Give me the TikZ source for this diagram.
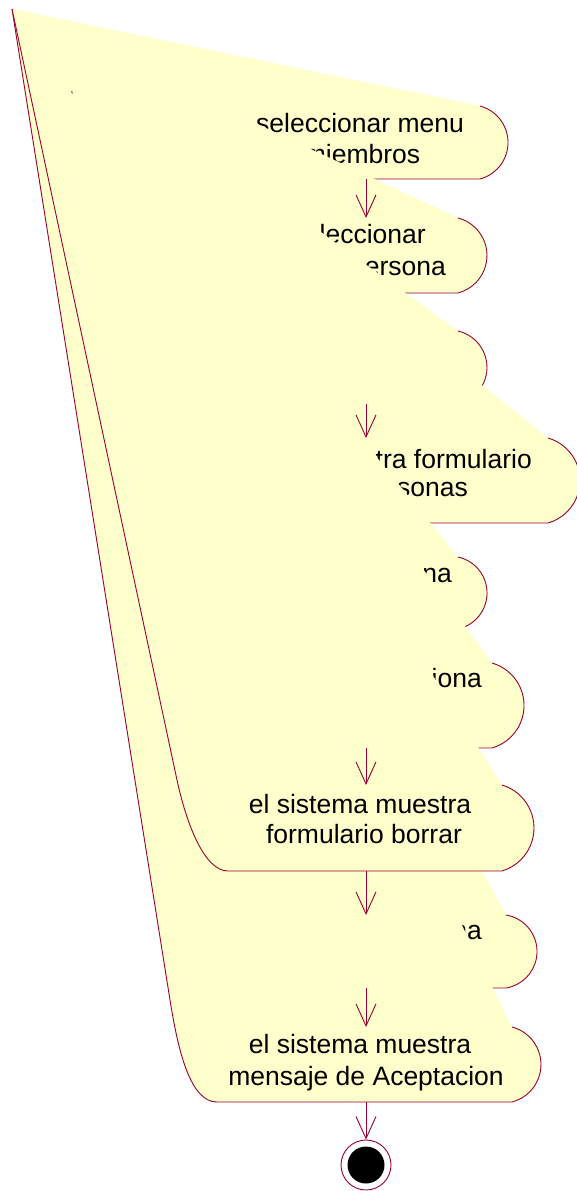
\documentclass[tikz,border=0pt]{standalone}
\usepackage{fontspec}
\setmainfont{Liberation Sans}
\usetikzlibrary{arrows.meta}
\definecolor{actfill}{HTML}{FFFFCC}
\definecolor{actline}{HTML}{990033}
\begin{document}
\begin{tikzpicture}[x=1pt,y=1pt,
  actoutline/.style={draw=actline, line width=0.9pt, line join=round},
  lbl/.style={font=\fontsize{26.5}{30}\selectfont, inner sep=0pt, text=black},
  flow/.style={draw=actline, line width=0.9pt, -{Straight Barb[length=22pt, width=20pt, line width=0.9pt]}}
]
\useasboundingbox (0,0) rectangle (576,-1191);
\coordinate (apex) at (12,-9);
% connection points
\coordinate (s1s) at (366,-179);
\coordinate (s2n) at (366,-218); \coordinate (s2s) at (366,-293);
\coordinate (s3n) at (366,-331); \coordinate (s3s) at (366,-404);
\coordinate (s4n) at (366,-438); \coordinate (s4s) at (366,-523);
\coordinate (s5n) at (366,-557); \coordinate (s5s) at (366,-629);
\coordinate (s6n) at (366,-663); \coordinate (s6s) at (366,-748);
\coordinate (s7n) at (366,-785); \coordinate (s7s) at (366,-871);
\coordinate (s8n) at (366,-915); \coordinate (s8s) at (366,-988);
\coordinate (s9n) at (366,-1027); \coordinate (s9s) at (366,-1102);

% S1
\fill[actfill] (apex) -- (480,-106) arc[start angle=75, end angle=-75, radius=37.79] -- (252,-179) -- cycle;
\draw[actoutline] (480,-106) arc[start angle=75, end angle=-75, radius=37.79] -- (252,-179);
\node[lbl, anchor=base] (t1a) at (360,-132) {seleccionar menu};
\node[lbl, anchor=base] (t1b) at (362,-163) {miembros};

% S2
\fill[actfill] (apex) -- (458,-218) arc[start angle=75.4, end angle=-75.4, radius=38.75] -- (274,-293) -- cycle;
\draw[actoutline] (458,-218) arc[start angle=75.4, end angle=-75.4, radius=38.75] -- (274,-293);
\node[lbl, anchor=base east] (t2a) at (426,-243) {seleccionar};
\node[lbl, anchor=base east] (t2b) at (446,-275) {persona};
\draw[flow] (s1s) -- (s2n);

% S3
\draw[flow] (s2s) -- (s3n);
\fill[actfill] (apex) -- (458,-331) arc[start angle=76.9, end angle=-76.9, radius=37.47] -- (274,-404) -- cycle;
\draw[actoutline] (458,-331) arc[start angle=76.9, end angle=-76.9, radius=37.47] -- (274,-404);

% S4
\fill[actfill] (apex) -- (548,-438) arc[start angle=74, end angle=-74, radius=44.22] -- (184,-523) -- cycle;
\draw[actoutline] (548,-438) arc[start angle=74, end angle=-74, radius=44.22] -- (184,-523);
\node[lbl, anchor=base east] (t4a) at (532,-468) {muestra formulario};
\node[lbl, anchor=base east] (t4b) at (468,-496) {personas};
\draw[flow] (s3s) -- (s4n);

% S5
\draw[flow] (s4s) -- (s5n);
\fill[actfill] (apex) -- (458,-557) arc[start angle=77.8, end angle=-77.8, radius=36.84] -- (274,-629) -- cycle;
\draw[actoutline] (458,-557) arc[start angle=77.8, end angle=-77.8, radius=36.84] -- (274,-629);
\node[lbl, anchor=base east] (t5a) at (452,-582) {persona};

% S6
\draw[flow] (s5s) -- (s6n);
\fill[actfill] (apex) -- (492,-663) arc[start angle=74, end angle=-74, radius=44.22] -- (240,-748) -- cycle;
\draw[actoutline] (492,-663) arc[start angle=74, end angle=-74, radius=44.22] -- (240,-748);
\node[lbl, anchor=base east] (t6a) at (482,-687) {selecciona};

% S8
\fill[actfill] (apex) -- (506,-915) arc[start angle=80.7, end angle=-80.7, radius=36.99] -- (226,-988) -- cycle;
\draw[actoutline] (506,-915) arc[start angle=80.7, end angle=-80.7, radius=36.99] -- (226,-988);
\node[lbl, anchor=base east] (t8a) at (482,-939) {persona};

% S9
\fill[actfill] (apex) -- (512,-1027) arc[start angle=75.4, end angle=-75.4, radius=38.75] -- (217,-1102)
  .. controls (190,-1102) and (178,-1050) .. (170,-1000) -- cycle;
\draw[actoutline] (512,-1027) arc[start angle=75.4, end angle=-75.4, radius=38.75] -- (217,-1102)
  .. controls (190,-1102) and (178,-1050) .. (170,-1000) -- (apex);
\node[lbl, anchor=base] (t9a) at (360,-1053) {el sistema muestra};
\node[lbl, anchor=base] (t9b) at (366,-1085) {mensaje de Aceptacion};

% S7
\fill[actfill] (apex) -- (502,-785) arc[start angle=73.3, end angle=-73.3, radius=44.89] -- (228,-871)
  .. controls (204,-871) and (186,-822) .. (177,-780) -- cycle;
\draw[actoutline] (502,-785) arc[start angle=73.3, end angle=-73.3, radius=44.89] -- (228,-871)
  .. controls (204,-871) and (186,-822) .. (177,-780) -- (apex);
\node[lbl, anchor=base] (t7a) at (360,-813) {el sistema muestra};
\node[lbl, anchor=base] (t7b) at (364,-843) {formulario borrar};

% speck
\draw[actline, line width=0.8pt] (71.7,-91) -- (72.3,-93.5);

% final state
\node[circle, draw=actline, fill=white, line width=0.9pt, minimum size=50pt, inner sep=0pt] (final) at (366,-1165) {};
\fill[black] (final.center) circle[radius=18.5pt];

\draw[flow] (s6s) -- (s7n);
\draw[flow] (s7s) -- (s8n);
\draw[flow] (s8s) -- (s9n);
\draw[flow] (s9s) -- (final.north);
\end{tikzpicture}
\end{document}
